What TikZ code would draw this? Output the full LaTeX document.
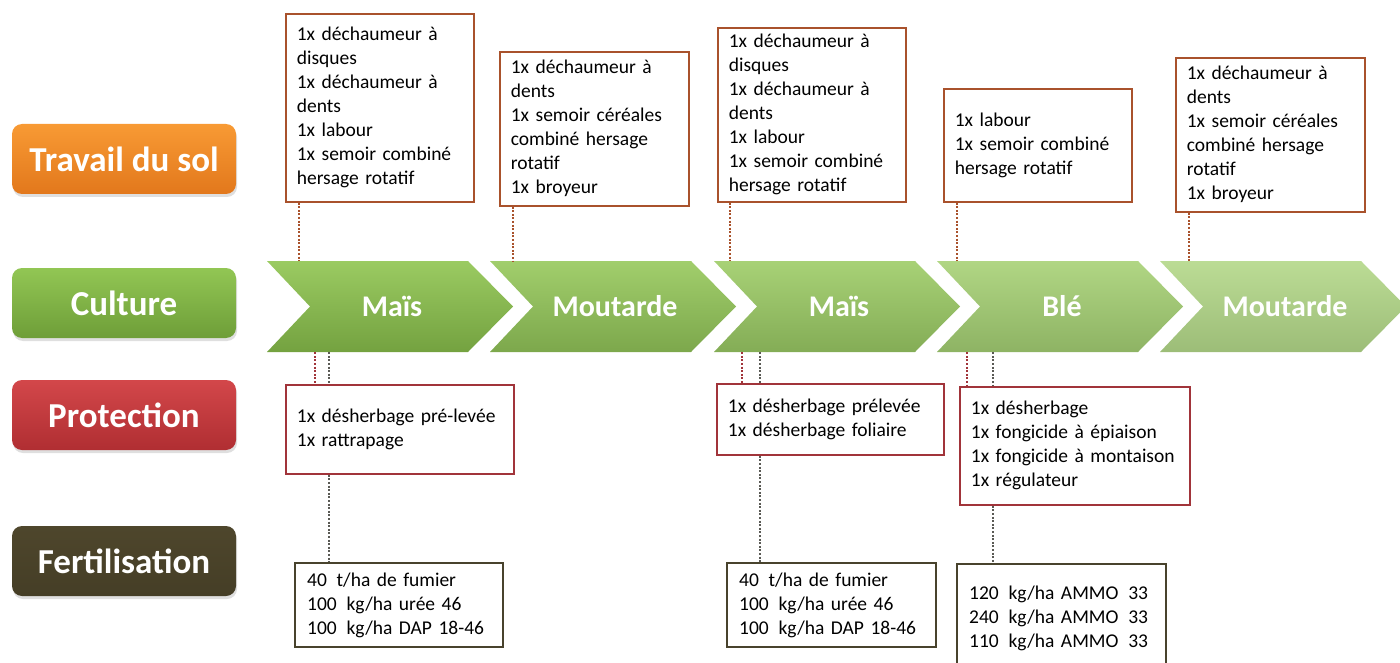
\documentclass[tikz,border=0pt]{standalone}
\usepackage{fontspec}
\setmainfont{Carlito}
\usetikzlibrary{shadows}

\definecolor{soilA}{HTML}{F89A34}
\definecolor{soilB}{HTML}{E2781C}
\definecolor{cultA}{HTML}{92C654}
\definecolor{cultB}{HTML}{6E9E38}
\definecolor{protA}{HTML}{D3474A}
\definecolor{protB}{HTML}{B02E32}
\definecolor{fertA}{HTML}{4E462C}
\definecolor{fertB}{HTML}{453E26}
\definecolor{soilbrd}{HTML}{A9522C}
\definecolor{protbrd}{HTML}{A1343A}
\definecolor{fertbrd}{HTML}{48432D}
\definecolor{dotgrey}{HTML}{5A5A55}

\newcommand{\boxfont}{\fontsize{19.5}{24}\selectfont}
\newcommand{\labfont}{\bfseries\fontsize{35}{38}\selectfont}
\newcommand{\chevfont}{\bfseries\fontsize{30}{34}\selectfont}

\begin{document}
\begin{tikzpicture}[x=1pt, y=-1pt,
    label box/.style={rounded corners=10pt, minimum width=224pt, minimum height=70pt,
      inner sep=0pt, text=white, font=\labfont,
      drop shadow={shadow xshift=1pt, shadow yshift=-3pt, opacity=0.25}},
    info box/.style={fill=white, anchor=north west, inner xsep=11pt, inner ysep=0pt,
      align=left, font=\boxfont},
    soil box/.style={info box, draw=soilbrd, line width=1.6pt},
    prot box/.style={info box, draw=protbrd, line width=1.8pt},
    fert box/.style={info box, draw=fertbrd, line width=2.4pt, inner xsep=12pt},
    chev text/.style={minimum height=91pt, inner sep=0pt, text=white, font=\chevfont},
    soil dot/.style={draw=soilbrd, line width=2.4pt, dash pattern=on 2pt off 1.6pt},
    prot dot/.style={draw=protbrd, line width=2.4pt, dash pattern=on 2pt off 1.6pt},
    fert dot/.style={draw=dotgrey, line width=2.4pt, dash pattern=on 2pt off 1.6pt}]
  \useasboundingbox (0,0) rectangle (1400,663);
  \clip (0,0) rectangle (1400,663);

  \node[label box, top color=soilA, bottom color=soilB] (lsoil) at (124,159) {Travail du sol};
  \node[label box, top color=cultA, bottom color=cultB] (lcult) at (124,303) {Culture};
  \node[label box, top color=protA, bottom color=protB] (lprot) at (124,415) {Protection};
  \node[label box, top color=fertA, bottom color=fertB] (lfert) at (124,561) {Fertilisation};

  \shade[top color=cultA!92!white, bottom color=cultB!96!white]
    (267,261) -- (468,261) -- (513,306.5) -- (468,352) -- (267,352) -- (310,306.5) -- cycle;
  \shade[top color=cultA!86!white, bottom color=cultB!90!white]
    (490,261) -- (691,261) -- (736,306.5) -- (691,352) -- (490,352) -- (533,306.5) -- cycle;
  \shade[top color=cultA!80!white, bottom color=cultB!85!white]
    (714,261) -- (915,261) -- (960,306.5) -- (915,352) -- (714,352) -- (757,306.5) -- cycle;
  \shade[top color=cultA!72!white, bottom color=cultB!78!white]
    (937,261) -- (1138,261) -- (1183,306.5) -- (1138,352) -- (937,352) -- (980,306.5) -- cycle;
  \shade[top color=cultA!62!white, bottom color=cultB!68!white]
    (1160,261) -- (1361,261) -- (1406,306.5) -- (1361,352) -- (1160,352) -- (1203,306.5) -- cycle;
  \node[chev text] (m1) at (392,306.5) {Maïs};
  \node[chev text] (m2) at (615,306.5) {Moutarde};
  \node[chev text] (m3) at (839,306.5) {Maïs};
  \node[chev text] (m4) at (1062,306.5) {Blé};
  \node[chev text] (m5) at (1285,306.5) {Moutarde};

  \node[soil box, text width=166pt, minimum height=188pt] (t1) at (285,13)
    {1x déchaumeur à\\disques\\1x déchaumeur à\\dents\\1x labour\\1x semoir combiné\\hersage rotatif};
  \node[soil box, text width=167pt, minimum height=154pt] (t2) at (499,51)
    {1x déchaumeur à\\dents\\1x semoir céréales\\combiné hersage\\rotatif\\1x broyeur};
  \node[soil box, text width=166pt, minimum height=174pt] (t3) at (717,27)
    {1x déchaumeur à\\disques\\1x déchaumeur à\\dents\\1x labour\\1x semoir combiné\\hersage rotatif};
  \node[soil box, text width=166pt, minimum height=113pt] (t4) at (943,88)
    {1x labour\\1x semoir combiné\\hersage rotatif};
  \node[soil box, text width=167pt, minimum height=154pt] (t5) at (1175,57)
    {1x déchaumeur à\\dents\\1x semoir céréales\\combiné hersage\\rotatif\\1x broyeur};

  \node[prot box, text width=206pt, minimum height=89pt] (p1) at (285,384)
    {1x désherbage pré-levée\\1x rattrapage};
  \node[prot box, text width=205pt, minimum height=71pt] (p2) at (716,383)
    {1x désherbage prélevée\\1x désherbage foliaire};
  \node[prot box, text width=208pt, minimum height=118pt] (p3) at (959,386)
    {1x désherbage\\1x fongicide à épiaison\\1x fongicide à montaison\\1x régulateur};

  \node[fert box, text width=184pt, minimum height=84pt] (f1) at (294,562)
    {40 \,t/ha de fumier\\100 \,kg/ha urée 46\\100 \,kg/ha DAP 18-46};
  \node[fert box, text width=185pt, minimum height=84pt] (f2) at (726,562)
    {40 \,t/ha de fumier\\100 \,kg/ha urée 46\\100 \,kg/ha DAP 18-46};
  \node[fert box, text width=185pt, minimum height=108pt] (f3) at (956,563)
    {120 \,kg/ha AMMO \,33\\240 \,kg/ha AMMO \,33\\110 \,kg/ha AMMO \,33};

  \draw[soil dot] ([xshift=14pt]t1.south west) -- ([xshift=14pt]t1.south west |- m1.north);
  \draw[soil dot] ([xshift=14pt]t2.south west) -- ([xshift=14pt]t2.south west |- m2.north);
  \draw[soil dot] ([xshift=13pt]t3.south west) -- ([xshift=13pt]t3.south west |- m3.north);
  \draw[soil dot] ([xshift=14pt]t4.south west) -- ([xshift=14pt]t4.south west |- m4.north);
  \draw[soil dot] ([xshift=14pt]t5.south west) -- ([xshift=14pt]t5.south west |- m5.north);

  \draw[prot dot] ([xshift=30pt]p1.north west |- m1.south) -- ([xshift=30pt]p1.north west);
  \draw[fert dot] ([xshift=44pt]p1.north west |- m1.south) -- ([xshift=44pt]p1.north west);
  \draw[prot dot] ([xshift=26pt]p2.north west |- m3.south) -- ([xshift=26pt]p2.north west);
  \draw[fert dot] ([xshift=44pt]p2.north west |- m3.south) -- ([xshift=44pt]p2.north west);
  \draw[prot dot] ([xshift=8pt]p3.north west |- m4.south) -- ([xshift=8pt]p3.north west);
  \draw[fert dot] ([xshift=34pt]p3.north west |- m4.south) -- ([xshift=34pt]p3.north west);

  \draw[fert dot] ([xshift=44pt]p1.south west) -- ([xshift=44pt]p1.south west |- f1.north);
  \draw[fert dot] ([xshift=44pt]p2.south west) -- ([xshift=44pt]p2.south west |- f2.north);
  \draw[fert dot] ([xshift=34pt]p3.south west) -- ([xshift=34pt]p3.south west |- f3.north);
\end{tikzpicture}
\end{document}
